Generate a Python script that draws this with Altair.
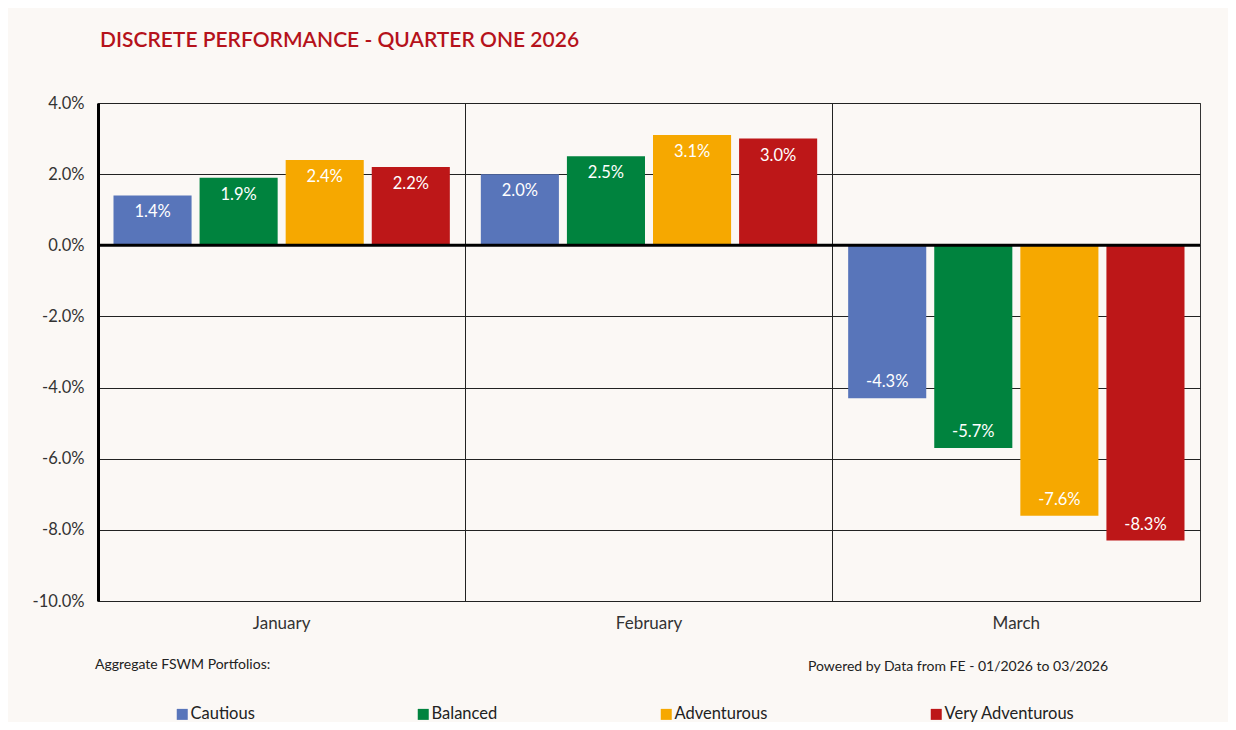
import altair as alt
import pandas as pd

months = ["January", "February", "March"]
series = ["Cautious", "Balanced", "Adventurous", "Very Adventurous"]
cautious = [1.4, 2.0, -4.3]
balanced = [1.9, 2.5, -5.7]
adventurous = [2.4, 3.1, -7.6]
very_adventurous = [2.2, 3.0, -8.3]
colors = ["#5875BA", "#00833E", "#F6A800", "#BD1718"]
y_ticks = [4, 2, 0, -2, -4, -6, -8, -10]
title_text = "DISCRETE PERFORMANCE - QUARTER ONE 2026"
note_left = ["Aggregate FSWM Portfolios:"]
note_right = ["Powered by Data from FE - 01/2026 to 03/2026"]

rows = []
for name, vals in zip(series, [cautious, balanced, adventurous, very_adventurous]):
    for m, v in zip(months, vals):
        rows.append({"Month": m, "Portfolio": name, "Return": v, "Label": f"{v:.1f}%"})
df = pd.DataFrame(rows)

FONT = "Lato"
W, H = 1102, 498

x = alt.X(
    "Month:N", sort=months,
    scale=alt.Scale(paddingInner=0, paddingOuter=0),
    axis=alt.Axis(title=None, labelAngle=0, labelFontSize=17, labelColor="#333333",
                  labelFont=FONT, labelPadding=14, domain=False, ticks=False, tickSize=0,
                  grid=True, bandPosition=0, gridColor="#222222", gridWidth=1),
)
xo = alt.XOffset("Portfolio:N", sort=series,
                 scale=alt.Scale(paddingInner=0.093, paddingOuter=0.18))
y = alt.Y(
    "Return:Q",
    scale=alt.Scale(domain=[-10, 4], nice=False, zero=False),
    axis=alt.Axis(title=None, values=y_ticks,
                  labelExpr="(datum.value < 0 ? '-' : '') + format(abs(datum.value), '.1f') + '%'",
                  labelFontSize=16.5, labelColor="#333333", labelFont=FONT,
                  labelPadding=14, ticks=False, tickSize=0,
                  domain=True, domainColor="#000000", domainWidth=3,
                  grid=True, gridColor="#222222", gridWidth=1),
)
color = alt.Color(
    "Portfolio:N", sort=series,
    scale=alt.Scale(domain=series, range=colors),
    legend=alt.Legend(orient="none", legendX=76, legendY=603, direction="horizontal",
                      columns=4, gridAlign="each", columnPadding=160, title=None,
                      symbolType="square", symbolSize=121, symbolStrokeWidth=0,
                      labelFontSize=16.5, labelFont=FONT, labelColor="#222222",
                      labelOffset=0, labelLimit=300),
)

base = alt.Chart(df)
bars = base.mark_bar(strokeWidth=0).encode(x=x, xOffset=xo, y=y, color=color)
lab_pos = base.transform_filter("datum.Return >= 0").mark_text(
    dy=17, color="#FFFFFF", fontSize=16.5, font=FONT, baseline="middle", align="center"
).encode(x=x, xOffset=xo, y=y, text="Label:N")
lab_neg = base.transform_filter("datum.Return < 0").mark_text(
    dy=-16, color="#FFFFFF", fontSize=16.5, font=FONT, baseline="middle", align="center"
).encode(x=x, xOffset=xo, y=y, text="Label:N")
zero = alt.Chart(pd.DataFrame({"z": [0]})).mark_rule(color="#000000", strokeWidth=3).encode(
    y=alt.Y("z:Q", scale=alt.Scale(domain=[-10, 4], nice=False, zero=False))
)
n1 = alt.Chart(pd.DataFrame({"t": note_left})).mark_text(
    align="left", baseline="middle", fontSize=14, font=FONT, color="#222222"
).encode(x=alt.value(-3), y=alt.value(562), text="t:N")
n2 = alt.Chart(pd.DataFrame({"t": note_right})).mark_text(
    align="left", baseline="middle", fontSize=14, font=FONT, color="#222222"
).encode(x=alt.value(710), y=alt.value(564), text="t:N")

chart = alt.layer(bars, zero, lab_pos, lab_neg, n1, n2).properties(
    width=W, height=H,
    title=alt.TitleParams(title_text, anchor="start", frame="group", orient="top",
                          baseline="bottom", offset=23, dx=2, fontSize=21, font=FONT,
                          fontWeight=600, color="#B5121B"),
    autosize=alt.AutoSizeParams(type="none"),
    padding={"left": 90, "top": 95, "right": 28, "bottom": 121},
).configure(background="#FBF8F5").configure_view(stroke="#333333", strokeWidth=1)

chart.save("out.html", embed_options={"renderer": "svg", "actions": False})
